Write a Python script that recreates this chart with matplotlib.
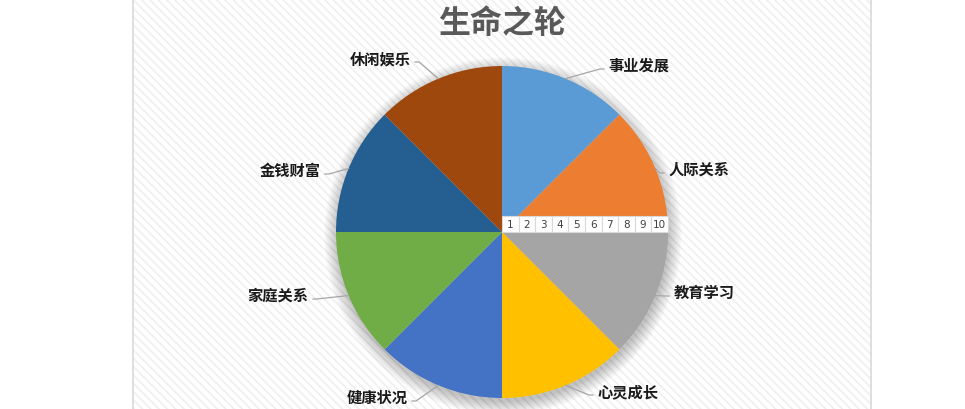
import matplotlib
matplotlib.use("Agg")
import matplotlib.pyplot as plt
from matplotlib.patches import Rectangle, Circle
import numpy as np

plt.rcParams['font.family'] = ['Noto Sans CJK SC', 'DejaVu Sans']
plt.rcParams['hatch.linewidth'] = 1.3

# data
areas = ['事业发展', '人际关系', '教育学习', '心灵成长', '健康状况', '家庭关系', '金钱财富', '休闲娱乐']
values = [1, 1, 1, 1, 1, 1, 1, 1]
colors = ['#5B9BD5', '#ED7D31', '#A5A5A5', '#FFC000', '#4472C4', '#70AD47', '#255E91', '#9E480E']
scale_ticks = ['1', '2', '3', '4', '5', '6', '7', '8', '9', '10']
title = '生命之轮'

# layout (pixels, y measured from top)
W, H = 965, 410
cx, cy, R = 502, 233, 166
label_pos = [(639, 66), (699, 170), (704, 293), (628, 392),
             (377, 398), (278, 296), (290, 171), (380, 59)]

fig = plt.figure(figsize=(W / 100, H / 100), dpi=100)
ax = fig.add_axes([0, 0, 1, 1])

# striped chart area
ax.add_patch(Rectangle((133, 0), 738, H, facecolor='white', edgecolor='#f0f0f0',
                       hatch='\\\\\\\\', lw=0, zorder=0))
ax.plot([133, 133], [0, H], color='#d9d9d9', lw=1.2, zorder=1)
ax.plot([871, 871], [0, H], color='#d9d9d9', lw=1.2, zorder=1)

# soft shadow
for k in range(20):
    ax.add_patch(Circle((cx + 1, H - cy - 4), R + 13 - 0.7 * k, facecolor='#000000',
                        alpha=0.012, lw=0, zorder=2))

wedges, _ = ax.pie(values, colors=colors, startangle=90, counterclock=False,
                   center=(cx, H - cy), radius=R,
                   wedgeprops=dict(linewidth=0, zorder=3))
for w in wedges:
    w.set_zorder(3)

# labels with leader lines
for w, name, (lx, ly) in zip(wedges, areas, label_pos):
    ang = np.deg2rad((w.theta1 + w.theta2) / 2)
    px, py = cx + R * np.cos(ang), H - cy + R * np.sin(ang)
    right = np.cos(ang) > 0
    tx = lx - 35 if right else lx + 35
    ty = H - ly - 4
    ax.plot([px, tx - (4 if right else -4), tx], [py, ty, ty], color='#a6a6a6',
            lw=0.9, zorder=4)
    ax.text(lx, H - ly, name, ha='center', va='center', fontsize=11,
            fontweight='bold', color='#1a1a1a', zorder=5)

# radial scale strip
cw = R / len(scale_ticks)
ch = 16
for i, t in enumerate(scale_ticks):
    x0 = cx + i * cw
    ax.add_patch(Rectangle((x0, H - cy), cw, ch, facecolor='white',
                           edgecolor='#d9d9d9', lw=0.8, zorder=6))
    ax.text(x0 + cw / 2, H - cy + ch / 2, t, ha='center', va='center',
            fontsize=7.5, color='#404040', family='DejaVu Sans', zorder=7)

ax.text(cx, H - 24, title, ha='center', va='center', fontsize=23,
        fontweight='bold', color='#595959', zorder=5)

ax.set_xlim(0, W)
ax.set_ylim(0, H)
ax.set_aspect('auto')
ax.axis('off')

fig.savefig('out.png', dpi=100)
